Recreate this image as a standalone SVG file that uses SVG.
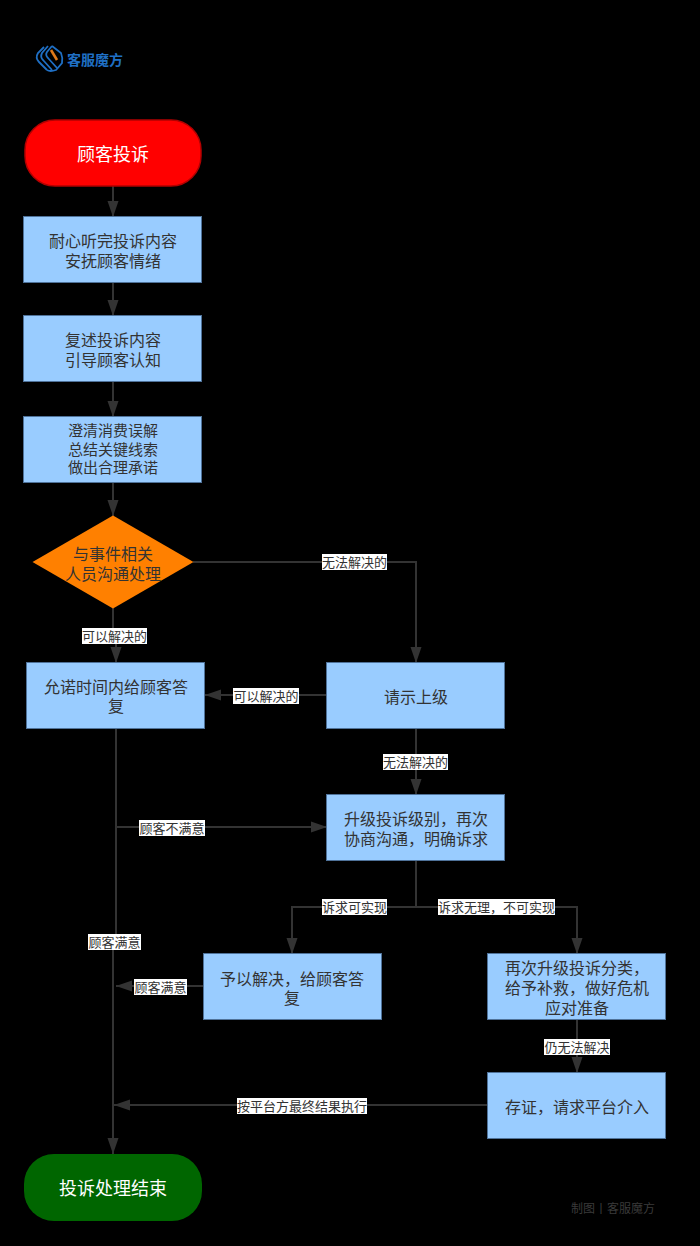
<svg xmlns="http://www.w3.org/2000/svg" width="700" height="1246" viewBox="0 0 700 1246">
<style>
text{font-family:"Noto Sans CJK SC","Noto Sans",sans-serif;text-anchor:middle}
.box{fill:#99ccff;stroke:#4f7299;stroke-width:1}
.t{font-size:16px;fill:#333}
.s{font-size:15px;fill:#333}
.big{font-size:18px;fill:#fff}
.edge{fill:none;stroke:#333;stroke-width:2;marker-end:url(#arrow)}
.plain{fill:none;stroke:#333;stroke-width:2}
.lb{fill:#fff}
.lt{font-size:13px;fill:#333}
</style>
<defs>
<marker id="arrow" markerUnits="userSpaceOnUse" markerWidth="18" markerHeight="14" refX="16" refY="7" orient="auto">
<path d="M0 1.500 L16 7 L0 12.500 Z" fill="#333"/>
</marker>
</defs>
<rect width="700" height="1246" fill="#000"/>
<g id="logo">
<g fill="none" stroke="#1f6fc4" stroke-width="1.800">
<path d="M44 47 L38 53 Q35 58 39 62 L47 70"/>
<path d="M48 46 L42 53 Q40 57 43 60 L52 70"/>
<path d="M52 46 L47 52 Q45 55 48 58 L57 68"/>
<path d="M52 46 L61 53 Q63 58 62 63 L56 70 Q50 72 47 70"/>
</g>
<path d="M51 50 L57 60" stroke="#e07a1a" stroke-width="2.600" fill="none"/>
<text x="95" y="65" font-size="14" font-weight="700" fill="#1f6fc4">客服魔方</text>
</g>
<g id="connectors">
<path class="edge" d="M113 186V217"/>
<path class="edge" d="M113 282V316"/>
<path class="edge" d="M113 381V417"/>
<path class="edge" d="M113 483V516"/>
<path class="edge" d="M113 608V636H116V663"/>
<path class="edge" d="M193 562H416V663"/>
<path class="edge" d="M327 695H205"/>
<path class="edge" d="M416 728V795"/>
<path class="edge" d="M116 728V942H113V1154"/>
<path class="edge" d="M116 827H327"/>
<path class="plain" d="M416 860V907"/>
<path class="edge" d="M416 907H292V954"/>
<path class="edge" d="M416 907H577V954"/>
<path class="edge" d="M204 986H116"/>
<path class="edge" d="M577 1019V1073"/>
<path class="edge" d="M488 1105H114"/>
</g>
<g id="edge-labels">
<rect class="lb" x="82" y="628" width="65" height="16"/><text class="lt" x="114.500" y="641">可以解决的</text>
<rect class="lb" x="322" y="554" width="65" height="16"/><text class="lt" x="354.500" y="567">无法解决的</text>
<rect class="lb" x="233" y="688" width="66" height="16"/><text class="lt" x="266" y="701">可以解决的</text>
<rect class="lb" x="383" y="754" width="65" height="16"/><text class="lt" x="415.500" y="767">无法解决的</text>
<rect class="lb" x="139" y="820" width="66" height="16"/><text class="lt" x="172" y="833">顾客不满意</text>
<rect class="lb" x="88" y="934" width="53" height="16"/><text class="lt" x="114.500" y="947">顾客满意</text>
<rect class="lb" x="322" y="899" width="65" height="16"/><text class="lt" x="354.500" y="912">诉求可实现</text>
<rect class="lb" x="438" y="899" width="117" height="16"/><text class="lt" x="496.500" y="912">诉求无理，不可实现</text>
<rect class="lb" x="134" y="979" width="53" height="16"/><text class="lt" x="160.500" y="992">顾客满意</text>
<rect class="lb" x="544" y="1039" width="66" height="16"/><text class="lt" x="577" y="1052">仍无法解决</text>
<rect class="lb" x="237" y="1098" width="130" height="16"/><text class="lt" x="302" y="1111">按平台方最终结果执行</text>
</g>
<g id="start"><rect x="25" y="120" width="176" height="66" rx="30" fill="#ff0000" stroke="#b20000" stroke-width="1.500"/><text class="big" x="113" y="161">顾客投诉</text></g>
<g id="listen"><rect class="box" x="23.500" y="216.500" width="178" height="66"/><text class="t" x="113" y="247">耐心听完投诉内容</text><text class="t" x="113" y="267">安抚顾客情绪</text></g>
<g id="restate"><rect class="box" x="23.500" y="315.500" width="178" height="66"/><text class="t" x="113" y="346">复述投诉内容</text><text class="t" x="113" y="366">引导顾客认知</text></g>
<g id="clarify"><rect class="box" x="23.500" y="416.500" width="178" height="66"/><text class="s" x="113" y="436">澄清消费误解</text><text class="s" x="113" y="455">总结关键线索</text><text class="s" x="113" y="473">做出合理承诺</text></g>
<g id="decide"><path d="M113 515.500L193.500 562L113 608.500L32.500 562Z" fill="#ff8000"/><text class="t" x="113" y="560">与事件相关</text><text class="t" x="113" y="580">人员沟通处理</text></g>
<g id="promise"><rect class="box" x="26.500" y="662.500" width="178" height="66"/><text class="t" x="116" y="693">允诺时间内给顾客答</text><text class="t" x="116" y="712">复</text></g>
<g id="report"><rect class="box" x="326.500" y="662.500" width="178" height="66"/><text class="t" x="416" y="703">请示上级</text></g>
<g id="escalate"><rect class="box" x="326.500" y="794.500" width="178" height="66"/><text class="t" x="416" y="825">升级投诉级别，再次</text><text class="t" x="416" y="845">协商沟通，明确诉求</text></g>
<g id="resolve"><rect class="box" x="203.500" y="953.500" width="178" height="66"/><text class="t" x="292" y="985">予以解决，给顾客答</text><text class="t" x="292" y="1004">复</text></g>
<g id="reclassify"><rect class="box" x="487.500" y="953.500" width="178" height="66"/><text class="t" x="577" y="974">再次升级投诉分类，</text><text class="t" x="577" y="994">给予补救，做好危机</text><text class="t" x="577" y="1014">应对准备</text></g>
<g id="platform"><rect class="box" x="487.500" y="1072.500" width="178" height="66"/><text class="t" x="577" y="1113">存证，请求平台介入</text></g>
<g id="end"><rect x="24" y="1154" width="178" height="67" rx="30" fill="#006600"/><text class="big" x="113" y="1195">投诉处理结束</text></g>
<text x="613" y="1213" font-size="12" fill="#3a3a3a">制图丨客服魔方</text>
</svg>
